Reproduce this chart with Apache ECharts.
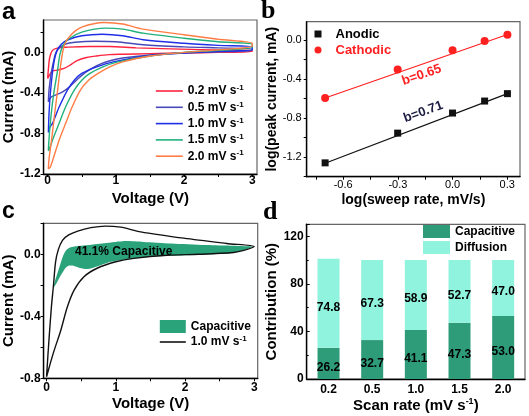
<!DOCTYPE html>
<html><head><meta charset="utf-8">
<script src="https://cdn.jsdelivr.net/npm/echarts@6/dist/echarts.min.js"></script>
<style>html,body{margin:0;padding:0;background:#fff}#c{width:529px;height:416px}</style>
</head><body><div id="c"></div>
<script>
// ---------- Panel a: CV curves (V, mA) ----------
const rateLabels = ['0.2', '0.5', '1.0', '1.5', '2.0'];
const cvUp02 = [[0.0,-0.257],[0.01,-0.17],[0.03,-0.05],[0.07,0.02],[0.15,0.045],[0.3,0.052],[0.6,0.058],[0.9,0.058],[1.3,0.045],[1.8,0.035],[2.4,0.025],[3.0,0.02]];
const cvDown02 = [[3.0,0.01],[2.5,0.0],[2.0,-0.005],[1.5,-0.012],[1.1,-0.018],[0.9,-0.022],[0.72,-0.035],[0.57,-0.05],[0.43,-0.08],[0.33,-0.125],[0.24,-0.158],[0.14,-0.175],[0.07,-0.185],[0.03,-0.22],[0.0,-0.257]];
const cvUp05 = [[0.01,-0.49],[0.02,-0.37],[0.05,-0.21],[0.09,-0.076],[0.12,0.0],[0.17,0.045],[0.25,0.08],[0.4,0.1],[0.7,0.11],[1.0,0.105],[1.4,0.075],[2.0,0.055],[2.5,0.045],[3.0,0.035]];
const cvDown05 = [[3.0,0.02],[2.5,0.005],[2.0,-0.005],[1.5,-0.025],[1.1,-0.055],[0.9,-0.085],[0.72,-0.13],[0.55,-0.2],[0.43,-0.27],[0.32,-0.34],[0.22,-0.39],[0.12,-0.42],[0.05,-0.44],[0.01,-0.49]];
const cvUp10 = [[0.01,-0.79],[0.02,-0.6],[0.04,-0.4],[0.07,-0.2],[0.1,-0.07],[0.14,0.02],[0.2,0.08],[0.3,0.125],[0.5,0.165],[0.8,0.18],[1.1,0.165],[1.4,0.125],[2.0,0.09],[2.5,0.07],[3.0,0.055]];
const cvDown10 = [[3.0,0.03],[2.5,0.01],[2.0,-0.005],[1.5,-0.03],[0.96,-0.093],[0.72,-0.142],[0.5,-0.207],[0.39,-0.274],[0.29,-0.372],[0.17,-0.537],[0.07,-0.70],[0.03,-0.74],[0.01,-0.79]];
const cvUp15 = [[0.01,-0.97],[0.02,-0.85],[0.05,-0.62],[0.09,-0.4],[0.14,-0.2],[0.18,-0.02],[0.22,0.06],[0.3,0.13],[0.5,0.2],[0.85,0.24],[1.1,0.23],[1.4,0.19],[2.0,0.14],[2.5,0.105],[3.0,0.08]];
const cvDown15 = [[3.0,0.05],[2.5,0.02],[2.0,0.0],[1.5,-0.035],[1.03,-0.093],[0.81,-0.142],[0.62,-0.207],[0.5,-0.274],[0.39,-0.372],[0.264,-0.537],[0.168,-0.70],[0.07,-0.866],[0.02,-0.965],[0.01,-0.97]];
const cvUp20 = [[0.01,-1.15],[0.02,-1.05],[0.06,-0.85],[0.1,-0.62],[0.15,-0.35],[0.2,-0.08],[0.25,0.08],[0.35,0.18],[0.5,0.25],[0.83,0.295],[1.1,0.28],[1.4,0.23],[2.0,0.175],[2.5,0.13],[3.0,0.09]];
const cvDown20 = [[3.0,0.06],[2.5,0.025],[2.0,0.0],[1.5,-0.035],[1.1,-0.093],[0.91,-0.142],[0.74,-0.207],[0.6,-0.274],[0.48,-0.372],[0.36,-0.537],[0.264,-0.70],[0.168,-0.866],[0.04,-1.13],[0.01,-1.15]];
const rateColors = ['#ff2540', '#4848b8', '#1f2fe8', '#20b07c', '#ff7d45'];

// ---------- Panel b: log-log ----------
const logRate = [-0.699, -0.301, 0.0, 0.176, 0.301];
const anodic = [-1.258, -0.953, -0.747, -0.624, -0.548];
const cathodic = [-0.593, -0.30, -0.103, -0.007, 0.055];
const fitX = [-0.699, 0.301];
const fitAnodic = [-1.262, -0.548];
const fitCathodic = [-0.593, 0.059];

// ---------- Panel c: 1.0 mV/s CV + capacitive region ----------
const cv1Up = [[0.0,-0.79],[0.02,-0.65],[0.04,-0.52],[0.07,-0.34],[0.1,-0.2],[0.13,-0.05],[0.17,0.03],[0.23,0.09],[0.32,0.125],[0.45,0.15],[0.64,0.172],[0.85,0.182],[1.07,0.175],[1.36,0.145],[1.98,0.104],[2.6,0.07],[3.0,0.05]];
const cv1Down = [[3.0,0.05],[2.85,0.025],[2.7,0.012],[2.2,0.0],[1.74,-0.006],[1.26,-0.026],[1.0,-0.048],[0.73,-0.09],[0.54,-0.145],[0.4,-0.23],[0.3,-0.34],[0.206,-0.49],[0.11,-0.62],[0.05,-0.71],[0.0,-0.79]];
const capUpper = [[0.095,-0.22],[0.13,-0.16],[0.18,-0.09],[0.23,-0.02],[0.28,0.025],[0.35,0.045],[0.5,0.055],[0.8,0.07],[1.1,0.085],[1.4,0.08],[1.8,0.07],[2.3,0.06],[2.7,0.055],[3.0,0.05]];
const capLower = [[3.0,0.05],[2.8,0.02],[2.6,0.005],[2.2,-0.003],[1.8,-0.01],[1.5,-0.016],[1.2,-0.03],[0.93,-0.048],[0.75,-0.075],[0.6,-0.095],[0.48,-0.088],[0.4,-0.075],[0.33,-0.072],[0.28,-0.085],[0.2,-0.14],[0.14,-0.19],[0.095,-0.22]];

// ---------- Panel d: contributions ----------
const scanRates = ['0.2', '0.5', '1.0', '1.5', '2.0'];
const capacitivePct = [26.2, 32.7, 41.1, 47.3, 53.0];
const diffusionPct = [74.8, 67.3, 58.9, 52.7, 47.0];

const F = 'Liberation Sans, Arial, sans-serif';
const SERIF = 'Liberation Serif, Times New Roman, serif';
const cvUps = [cvUp02, cvUp05, cvUp10, cvUp15, cvUp20];
const cvDowns = [cvDown02, cvDown05, cvDown10, cvDown15, cvDown20];
const capPolygon = capUpper.concat(capLower);

function vAxis(gi, min, max, labels, ticks, fmt, o) {
  o = o || {};
  return {
    type: 'value', gridIndex: gi, min: min, max: max,
    axisLine: {show: true, onZero: false, lineStyle: {color: '#000', width: 1.4}},
    axisTick: {show: true, customValues: ticks, inside: !!o.inside, length: 3, lineStyle: {color: '#000', width: 1}},
    axisLabel: {customValues: labels, formatter: fmt, fontFamily: F, fontWeight: o.weight || 'bold',
      fontSize: o.size || 12, color: '#000', margin: o.margin == null ? 3 : o.margin},
    splitLine: {show: false},
    name: o.name, nameLocation: 'middle', nameGap: o.gap,
    nameTextStyle: Object.assign({fontFamily: F, fontWeight: 'bold', fontSize: o.nsize || 15, color: '#000'}, o.nts || {})
  };
}
const f1 = v => v.toFixed(1);
const f0 = v => String(v);
const supRich = {
  t: {fontFamily: F, fontWeight: 'bold', fontSize: 12, color: '#000', lineHeight: 14},
  s: {fontFamily: F, fontWeight: 'bold', fontSize: 8, color: '#000', verticalAlign: 'top', lineHeight: 14}
};

const gridBase = {show: true, borderColor: '#666', borderWidth: 1.2, containLabel: false};
const option = {
  animation: false,
  backgroundColor: '#fff',
  grid: [
    Object.assign({left: 39.3, top: 20, width: 217.7, height: 154}, gridBase),
    Object.assign({left: 306.7, top: 21.7, width: 213.3, height: 155}, gridBase),
    Object.assign({left: 42.7, top: 223.3, width: 215, height: 155}, gridBase),
    Object.assign({left: 306.7, top: 224.3, width: 218.3, height: 154.7}, gridBase)
  ],
  xAxis: [
    vAxis(0, -0.06, 3.07, [0, 1, 2, 3], [0, 0.5, 1, 1.5, 2, 2.5, 3], f0, {name: 'Voltage (V)', gap: 17, margin: 1}),
    vAxis(1, -0.8, 0.37, [-0.6, -0.3, 0, 0.3], [-0.75, -0.6, -0.45, -0.3, -0.15, 0, 0.15, 0.3], f1,
      {name: 'log(sweep rate, mV/s)', gap: 16, weight: 'normal', size: 11, nsize: 14}),
    vAxis(2, -0.043, 3.05, [0, 1, 2, 3], [0, 0.5, 1, 1.5, 2, 2.5, 3], f0, {name: 'Voltage (V)', gap: 18}),
    {
      type: 'category', gridIndex: 3, data: scanRates,
      axisLine: {show: true, lineStyle: {color: '#000', width: 1.4}},
      axisTick: {show: true, alignWithLabel: true, inside: true, length: 3, lineStyle: {color: '#000'}},
      axisLabel: {fontFamily: F, fontWeight: 'bold', fontSize: 12, color: '#000', margin: 5},
      name: '{t|Scan rate (mV s}{s|-1}{t|)}', nameLocation: 'middle', nameGap: 18,
      nameTextStyle: {rich: {
        t: {fontFamily: F, fontWeight: 'bold', fontSize: 15, color: '#000', lineHeight: 17},
        s: {fontFamily: F, fontWeight: 'bold', fontSize: 9, color: '#000', verticalAlign: 'top', lineHeight: 17}
      }}
    }
  ],
  yAxis: [
    vAxis(0, -1.2, 0.32, [-1.2, -0.8, -0.4, 0], [-1.2, -1.0, -0.8, -0.6, -0.4, -0.2, 0, 0.2], f1, {name: 'Current (mA)', gap: 20}),
    vAxis(1, -1.4, 0.19, [-1.2, -0.8, -0.4, 0], [-1.4, -1.2, -1.0, -0.8, -0.6, -0.4, -0.2, 0], f1,
      {name: 'log(peak current, mA)', gap: 27, weight: 'normal', size: 11, nsize: 14, margin: 5}),
    vAxis(2, -0.8, 0.2, [-0.8, -0.4, 0], [-0.8, -0.6, -0.4, -0.2, 0, 0.2], f1, {name: 'Current (mA)', gap: 23}),
    {
      type: 'value', gridIndex: 3, min: 0, max: 130, interval: 40,
      axisLine: {show: true, onZero: false, lineStyle: {color: '#000', width: 1.4}},
      axisTick: {show: true, inside: true, length: 3, lineStyle: {color: '#000'}},
      minorTick: {show: true, splitNumber: 2, length: 2, lineStyle: {color: '#000'}},
      axisLabel: {fontFamily: F, fontWeight: 'bold', fontSize: 12, color: '#000', margin: 3, showMaxLabel: false},
      splitLine: {show: false},
      name: 'Contribution (%)', nameLocation: 'middle', nameGap: 26,
      nameTextStyle: {fontFamily: F, fontWeight: 'bold', fontSize: 15, color: '#000'}
    }
  ],
  legend: [
    {
      data: rateLabels, orient: 'vertical', left: 155, top: 84, padding: 0, itemWidth: 27, itemHeight: 10, itemGap: 3.3,
      itemStyle: {opacity: 0}, lineStyle: {width: 1.6},
      formatter: n => '{t|' + n + ' mV s}{s|-1}',
      textStyle: {rich: supRich}
    },
    {
      data: [{name: 'Anodic', icon: 'rect'}, {name: 'Cathodic', icon: 'circle', textStyle: {color: '#ff2020'}}],
      orient: 'vertical', left: 314.5, top: 26.5, padding: 0, itemWidth: 7, itemHeight: 7, itemGap: 1,
      textStyle: {fontFamily: F, fontWeight: 'bold', fontSize: 13, color: '#000', lineHeight: 15, padding: [0, 0, 0, 9]}
    },
    {
      data: [{name: 'c_cap', icon: 'rect', itemStyle: {opacity: 1}}, {name: 'c_cv'}], orient: 'vertical', left: 159, top: 320, padding: 0,
      itemWidth: 26, itemHeight: 13, itemGap: 2, itemStyle: {opacity: 0}, lineStyle: {width: 1.6},
      formatter: n => n === 'c_cap' ? '{t|Capacitive}' : '{t|1.0 mV s}{s|-1}',
      textStyle: {rich: supRich}
    },
    {
      data: [{name: 'd_cap', icon: 'rect'}, {name: 'd_dif', icon: 'rect'}], orient: 'vertical', left: 423, top: 225, padding: 0,
      itemWidth: 27, itemHeight: 13, itemGap: 3,
      formatter: n => n === 'd_cap' ? 'Capacitive' : 'Diffusion',
      textStyle: {fontFamily: F, fontWeight: 'bold', fontSize: 12, color: '#000'}
    }
  ],
  series: [].concat(
    rateLabels.map((r, i) => ({
      type: 'line', name: r, xAxisIndex: 0, yAxisIndex: 0,
      data: cvUps[i].concat(cvDowns[i]), smooth: 0.3, symbol: 'none',
      lineStyle: {width: 1.4, color: rateColors[i]}, itemStyle: {color: rateColors[i]}
    })),
    [
      {type: 'line', name: 'fitA', xAxisIndex: 1, yAxisIndex: 1, data: fitX.map((x, i) => [x, fitAnodic[i]]),
        symbol: 'none', lineStyle: {color: '#111', width: 1.2}, z: 1},
      {type: 'line', name: 'fitC', xAxisIndex: 1, yAxisIndex: 1, data: fitX.map((x, i) => [x, fitCathodic[i]]),
        symbol: 'none', lineStyle: {color: '#ff2020', width: 1.2}, z: 1},
      {type: 'scatter', name: 'Anodic', xAxisIndex: 1, yAxisIndex: 1, data: logRate.map((x, i) => [x, anodic[i]]),
        symbol: 'rect', symbolSize: 7, itemStyle: {color: '#111', opacity: 1}, z: 3},
      {type: 'scatter', name: 'Cathodic', xAxisIndex: 1, yAxisIndex: 1, data: logRate.map((x, i) => [x, cathodic[i]]),
        symbol: 'circle', symbolSize: 8, itemStyle: {color: '#ff2020', opacity: 1}, z: 3},
      {
        type: 'custom', name: 'c_cap', xAxisIndex: 2, yAxisIndex: 2, data: capPolygon,
        encode: {x: 0, y: 1}, itemStyle: {color: '#2aa37a'}, z: 1,
        renderItem: (params, api) => {
          if (params.dataIndex !== 0) return null;
          const pts = capPolygon.map(p => api.coord(p));
          return {type: 'polygon', shape: {points: pts, smooth: 0.25}, style: {fill: '#2aa37a'}};
        }
      },
      {type: 'line', name: 'c_cv', xAxisIndex: 2, yAxisIndex: 2, data: cv1Up.concat(cv1Down), smooth: 0.3,
        symbol: 'none', lineStyle: {color: '#111', width: 1.4}, itemStyle: {color: '#111'}, z: 2},
      {type: 'bar', name: 'd_cap', xAxisIndex: 3, yAxisIndex: 3, stack: 'tot', data: capacitivePct, barWidth: 22,
        itemStyle: {color: '#2e9c78'},
        label: {show: true, position: 'inside', offset: [0, 4], fontFamily: F, fontWeight: 'bold', fontSize: 12, color: '#000', formatter: p => p.value.toFixed(1)}},
      {type: 'bar', name: 'd_dif', xAxisIndex: 3, yAxisIndex: 3, stack: 'tot', data: diffusionPct, barWidth: 22,
        itemStyle: {color: '#8ff3dd'},
        label: {show: true, position: 'inside', offset: [0, 4], fontFamily: F, fontWeight: 'bold', fontSize: 12, color: '#000', formatter: p => p.value.toFixed(1)}}
    ]
  ),
  graphic: [
    {type: 'text', left: 2, top: 0, style: {text: 'a', font: 'bold 24px ' + F, fill: '#000'}},
    {type: 'text', left: 261, top: -2, style: {text: 'b', font: 'bold 26px ' + SERIF, fill: '#000'}},
    {type: 'text', left: 2, top: 200, style: {text: 'c', font: 'bold 23px ' + F, fill: '#000'}},
    {type: 'text', left: 263, top: 199, style: {text: 'd', font: 'bold 26px ' + SERIF, fill: '#000'}},
    {type: 'text', x: 75, y: 252, style: {text: '41.1% Capacitive', font: 'bold 12px ' + F, fill: '#000', verticalAlign: 'middle'}, z: 10},
    {type: 'text', x: 421.7, y: 75, rotation: 19 * Math.PI / 180,
      style: {text: 'b=0.65', font: 'bold 13px ' + F, fill: '#ff2020', align: 'center', verticalAlign: 'middle'}},
    {type: 'text', x: 423.3, y: 112, rotation: 20 * Math.PI / 180,
      style: {text: 'b=0.71', font: 'bold 13px ' + F, fill: '#1a1a40', align: 'center', verticalAlign: 'middle'}}
  ]
};
const chart = echarts.init(document.getElementById('c'), null, {renderer: 'canvas', width: 529, height: 416});
chart.setOption(option);
</script></body></html>
